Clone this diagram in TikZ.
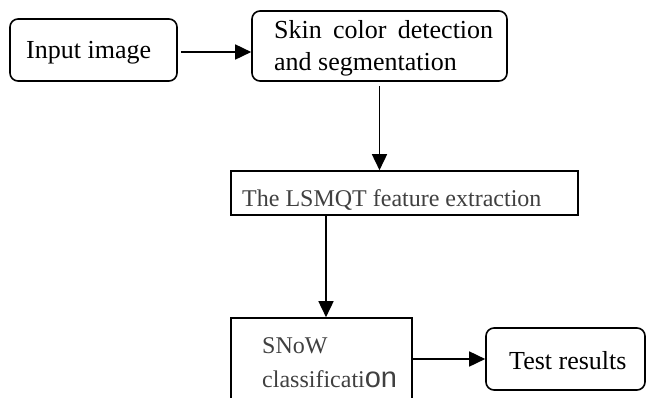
\documentclass[tikz,border=0pt]{standalone}
\usepackage{fontspec}
\setmainfont{Liberation Serif}
\newfontfamily\sansf{Liberation Sans}
\usetikzlibrary{arrows.meta}
\definecolor{txtgray}{HTML}{404040}
\begin{document}
\begin{tikzpicture}[x=1pt,y=-1pt,
 rbox/.style={draw, line width=1.6pt, rounded corners=8pt, inner sep=0pt},
 sbox/.style={draw, line width=1.6pt, inner sep=0pt},
 lbl/.style={anchor=base west, inner sep=0pt, font=\fontsize{26}{30}\selectfont},
 glbl/.style={anchor=base west, inner sep=0pt, text=txtgray, font=\fontsize{24}{28}\selectfont},
 arr/.style={line width=1.6pt, -{Triangle[length=16pt,width=15pt]}}]
\useasboundingbox (0,0) rectangle (646,397);
\clip (0,0) rectangle (646,397);
\fill[white] (0,0) rectangle (646,397);
% boxes
\node[rbox, minimum width=167pt, minimum height=62pt] (in) at (93.5,50) {};
\node[rbox, minimum width=255pt, minimum height=70pt] (skin) at (379.5,46) {};
\node[sbox, minimum width=347pt, minimum height=44pt] (ls) at (404.5,193) {};
\node[sbox, minimum width=181pt, minimum height=112pt] (sn) at (321.5,374) {};
\node[rbox, minimum width=159pt, minimum height=62pt] (te) at (565.5,359) {};
% texts
\node[lbl] (t1) at (26,58) {Input image};
\node[lbl] (t2) at (274,38) {\makebox[219pt][s]{Skin color detection}};
\node[lbl] (t3) at (274,70) {and segmentation};
\node[glbl] (t4) at (242,206) {The LSMQT feature extraction};
\node[glbl] (t5) at (262,353) {SNoW};
\node[glbl] (t6) at (262,387) {classificati{\sansf\fontsize{29}{32}\selectfont on}};
\node[lbl] (t7) at (509,369) {Test results};
% arrows
\draw[arr] ([shift={(3,2)}]in.east) -- ([shift={(0,2)}]in.east -| skin.west);
\draw[arr] ([shift={(0,4)}]skin.south) -- (skin.south |- ls.north);
\draw[arr] ([shift={(4.5,0)}]sn.north |- ls.south) -- ([shift={(4.5,0)}]sn.north);
\draw[arr] (sn.east |- te.west) -- (te.west);
\end{tikzpicture}
\end{document}
